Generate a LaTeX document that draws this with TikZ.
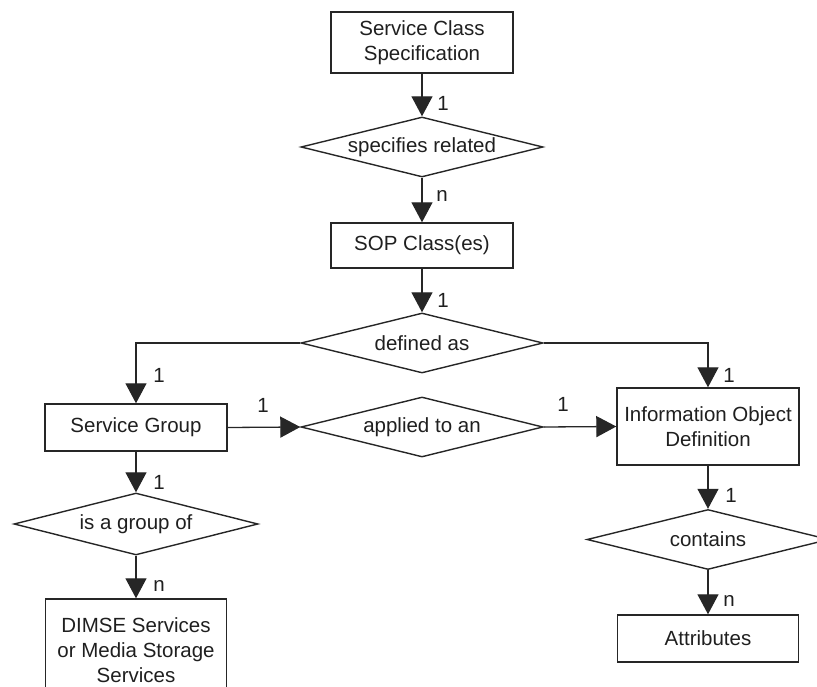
\documentclass[tikz,border=0pt]{standalone}
\usepackage{fontspec}
\setmainfont{Liberation Sans}
\usetikzlibrary{shapes.geometric,arrows.meta}
\begin{document}
\begin{tikzpicture}[x=1pt,y=-1pt,
  every node/.style={font=\fontsize{20.5}{25}\selectfont, text=black!88},
  ebox/.style={draw=black!85, line width=1.4pt, rectangle, align=center, inner sep=0pt, minimum width=182pt},
  rel/.style={draw=black!85, line width=1.4pt, diamond, inner sep=0pt, minimum width=242pt, minimum height=60pt},
  conn/.style={draw=black!85, line width=1.3pt, -{Triangle[length=20pt,width=21pt]}},
  card/.style={inner sep=0pt}
]
\useasboundingbox (0,0) rectangle (817,687);
\clip (0,0) rectangle (817,687);

% entity boxes
\node[ebox, minimum height=61pt] (scs) at (422,42.5) {Service Class\\Specification};
\node[ebox, minimum height=45pt] (sop) at (422,245.5) {SOP Class(es)};
\node[ebox, minimum height=47pt] (sg) at (136,427.5) {Service Group};
\node[ebox, minimum height=77pt] (iod) at (708,426.5) {Information Object\\Definition};
\node[ebox, minimum width=181pt, minimum height=102pt] (dimse) at (136,650) {DIMSE Services\\or Media Storage\\Services};
\node[ebox, minimum width=181pt, minimum height=47pt] (attr) at (708,638.5) {Attributes};

% relationship diamonds
\node[rel, label={center:specifies related}] (d1) at (422,147) {};
\node[rel, label={center:defined as}] (d2) at (422,343) {};
\node[rel, label={center:applied to an}] (d3) at (422,427) {};
\node[rel, minimum width=244pt, minimum height=62pt, label={center:is a group of}] (d4) at (136,524) {};
\node[rel, label={center:contains}] (d5) at (708,539.5) {};

% connectors
\draw[conn] (scs.south) -- (d1.north);
\draw[conn] (d1.south) -- (sop.north);
\draw[conn] (sop.south) -- (d2.north);
\draw[conn] (d2.west) -| (sg.north);
\draw[conn] (d2.east) -| (iod.north);
\draw[conn] (sg.east) -- (d3.west);
\draw[conn] (d3.east) -- (iod.west);
\draw[conn] (sg.south) -- (d4.north);
\draw[conn] (d4.south) -- (dimse.north);
\draw[conn] (iod.south) -- (d5.north);
\draw[conn] (d5.south) -- (attr.north);

% cardinalities
\node[card] (c1) at (443,103) {1};
\node[card] (c2) at (442,196) {n};
\node[card] (c3) at (443,300) {1};
\node[card] (c4) at (159,375) {1};
\node[card] (c5) at (729,375) {1};
\node[card] (c6) at (263,405) {1};
\node[card] (c7) at (563,404) {1};
\node[card] (c8) at (159,482) {1};
\node[card] (c9) at (159,586) {n};
\node[card] (c10) at (731,495) {1};
\node[card] (c11) at (729,601) {n};
\end{tikzpicture}
\end{document}
